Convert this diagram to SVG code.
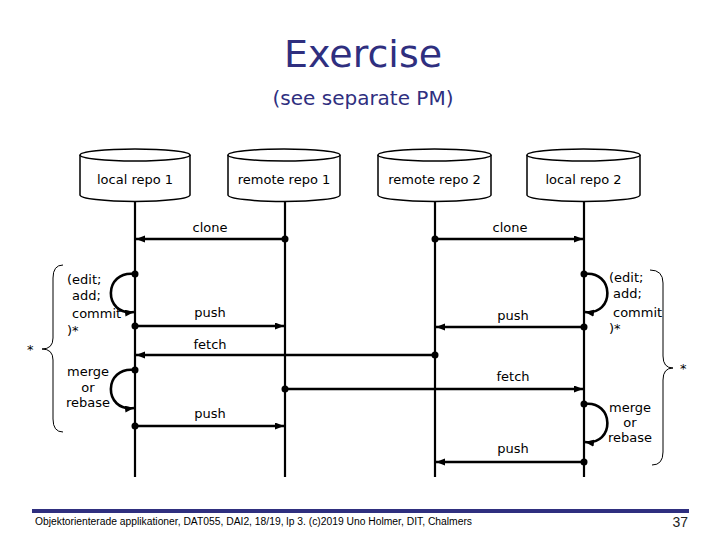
<svg xmlns="http://www.w3.org/2000/svg" width="720" height="540" viewBox="0 0 720 540">
<style>
.title{font-family:"DejaVu Sans",Verdana,sans-serif;fill:#2f2f7f;text-anchor:middle}
.t{font-family:"DejaVu Sans",Verdana,sans-serif;font-size:13px;fill:#000}
.c{text-anchor:middle}
.cyl{fill:#fff;stroke:#000;stroke-width:1.5}
.life{stroke:#000;stroke-width:2.2;fill:none}
.msg{stroke:#000;stroke-width:2.6;fill:none}
.brace{stroke:#000;stroke-width:1;fill:none}
.dot{fill:#000}
</style>
<defs>
<marker id="ah" markerUnits="userSpaceOnUse" markerWidth="10" markerHeight="8" refX="9" refY="3.5" orient="auto">
<path d="M0,0 L9,3.5 L0,7 z" fill="#000"/>
</marker>
</defs>
<rect width="720" height="540" fill="#fff"/>
<text class="title" x="363" y="67" font-size="38">Exercise</text>
<text class="title" x="363" y="105" font-size="20">(see separate PM)</text>

<g id="local1">
<path class="cyl" d="M80,155 L80,195 A55,6.5 0 0 0 190,195 L190,155"/>
<ellipse class="cyl" cx="135" cy="155" rx="55" ry="6"/>
<text class="t c" x="135" y="184">local repo 1</text>
<line class="life" x1="135" y1="201" x2="135" y2="477"/>
</g>
<g id="remote1">
<path class="cyl" d="M228,155 L228,195 A56,6.5 0 0 0 340,195 L340,155"/>
<ellipse class="cyl" cx="284" cy="155" rx="56" ry="6"/>
<text class="t c" x="284" y="184">remote repo 1</text>
<line class="life" x1="285" y1="201" x2="285" y2="477"/>
</g>
<g id="remote2">
<path class="cyl" d="M378,155 L378,195 A56.5,6.5 0 0 0 491,195 L491,155"/>
<ellipse class="cyl" cx="434.5" cy="155" rx="56.5" ry="6"/>
<text class="t c" x="434.5" y="184">remote repo 2</text>
<line class="life" x1="435" y1="201" x2="435" y2="477"/>
</g>
<g id="local2">
<path class="cyl" d="M527,155 L527,195 A56.5,6.5 0 0 0 640,195 L640,155"/>
<ellipse class="cyl" cx="583.5" cy="155" rx="56.5" ry="6"/>
<text class="t c" x="583.5" y="184">local repo 2</text>
<line class="life" x1="584" y1="201" x2="584" y2="477"/>
</g>

<g id="connectors">
<line class="msg" x1="285" y1="239" x2="136" y2="239" marker-end="url(#ah)"/>
<line class="msg" x1="435" y1="239" x2="583" y2="239" marker-end="url(#ah)"/>
<path class="msg" d="M135,274 C103,270 103,316 134,312" marker-end="url(#ah)"/>
<line class="msg" x1="135" y1="326" x2="284" y2="326" marker-end="url(#ah)"/>
<line class="msg" x1="435" y1="355" x2="136" y2="355" stroke-width="3.2" marker-end="url(#ah)"/>
<path class="msg" d="M135,370 C103,366 103,412 134,408" marker-end="url(#ah)"/>
<line class="msg" x1="285" y1="389" x2="583" y2="389" marker-end="url(#ah)"/>
<line class="msg" x1="135" y1="426" x2="284" y2="426" marker-end="url(#ah)"/>
<path class="msg" d="M584,274 C615,270 615,316 585,312" marker-end="url(#ah)"/>
<line class="msg" x1="584" y1="327" x2="436" y2="327" marker-end="url(#ah)"/>
<path class="msg" d="M584,404 C615,400 615,446 585,442" marker-end="url(#ah)"/>
<line class="msg" x1="584" y1="462" x2="436" y2="462" marker-end="url(#ah)"/>
<circle class="dot" cx="285" cy="239" r="3.5"/>
<circle class="dot" cx="435" cy="239" r="3.5"/>
<circle class="dot" cx="135" cy="274" r="3.5"/>
<circle class="dot" cx="135" cy="326" r="3.5"/>
<circle class="dot" cx="435" cy="355" r="3.5"/>
<circle class="dot" cx="135" cy="370" r="3.5"/>
<circle class="dot" cx="285" cy="389" r="3.5"/>
<circle class="dot" cx="135" cy="426" r="3.5"/>
<circle class="dot" cx="584" cy="274" r="3.5"/>
<circle class="dot" cx="584" cy="327" r="3.5"/>
<circle class="dot" cx="584" cy="404" r="3.5"/>
<circle class="dot" cx="584" cy="462" r="3.5"/>
<path class="brace" d="M63,265 Q53,265 53,278 L53,338 Q53,349 42,349 Q53,349 53,360 L53,419 Q53,432 63,432"/>
<path class="brace" d="M650,270 Q663,270 663,283 L663,356 Q663,368 673,368 Q663,368 663,380 L663,452 Q663,465 652,465"/>
</g>

<g id="labels">
<text class="t c" x="210" y="232">clone</text>
<text class="t c" x="510" y="232">clone</text>
<text class="t c" x="210" y="317">push</text>
<text class="t c" x="210" y="349">fetch</text>
<text class="t c" x="210" y="418">push</text>
<text class="t c" x="513" y="320">push</text>
<text class="t c" x="513" y="381">fetch</text>
<text class="t c" x="513" y="453">push</text>
<text class="t" x="67" y="284">(edit;</text>
<text class="t" x="72" y="300">add;</text>
<text class="t" x="72" y="318">commit</text>
<text class="t" x="67" y="335">)*</text>
<text class="t c" x="88" y="376">merge</text>
<text class="t c" x="88" y="392">or</text>
<text class="t c" x="88" y="407">rebase</text>
<text class="t" x="609" y="282">(edit;</text>
<text class="t" x="613" y="298">add;</text>
<text class="t" x="613" y="317">commit</text>
<text class="t" x="609" y="333">)*</text>
<text class="t c" x="630" y="412">merge</text>
<text class="t c" x="630" y="427">or</text>
<text class="t c" x="630" y="442">rebase</text>
<text class="t" x="27" y="354">*</text>
<text class="t" x="680" y="373">*</text>
</g>

<line x1="32" y1="511" x2="689" y2="511" stroke="#2f2f7f" stroke-width="4"/>
<text x="35" y="525" font-family="Liberation Sans, Arial, sans-serif" font-size="10" textLength="437" lengthAdjust="spacingAndGlyphs">Objektorienterade applikationer, DAT055, DAI2, 18/19, lp 3. (c)2019 Uno Holmer, DIT, Chalmers</text>
<text x="688" y="527" font-family="Liberation Sans, Arial, sans-serif" font-size="14" text-anchor="end" fill="#222">37</text>
</svg>
